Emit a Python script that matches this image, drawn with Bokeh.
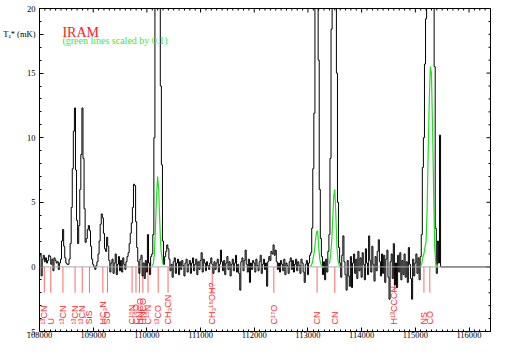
import numpy as np
from bokeh.plotting import figure
from bokeh.models import Range1d, LinearAxis, SingleIntervalTicker, FixedTicker, Label, Span, BasicTickFormatter
from bokeh.core.properties import value
from bokeh.embed import file_html
from bokeh.resources import INLINE

# ---------------- data ----------------
FREQ_START = 108000      # MHz, centre of first channel
CHANNEL_WIDTH = 20       # MHz
X_MIN, X_MAX = 108000, 116400
Y_MIN, Y_MAX = -5, 20
GREEN_SCALE = 0.1

# antenna temperature T_A* (mK), one value per 20 MHz channel, 108000 .. 115460 MHz
intensity = [
    # 108000
    0.8, 1.0, -0.7, 0.6, 0.9, 0.4, 0.7, 0.3, 0.5, 0.9, 0.8, 0.2, 0.6, -0.3, 0.7, 0.5, 0.3, 0.4, -0.2, 0.3,
    # 108400
    0.6, 2.0, 2.9, 1.6, 0.7, 0.3, 0.2, 0.2, 0.6, 1.8, 4.6, 7.6, 10.5, 12.3, 7.5, 3.6, 1.8, 3.2, 6.0, 8.7,
    # 108800
    12.3, 8.4, 4.5, 1.9, 2.2, 2.9, 3.2, 2.8, 1.6, 0.6, 0.2, 0.0, -0.2, 0.1, 0.4, 1.0, 2.0, 3.3, 4.1, 3.8,
    # 109200
    2.6, 1.4, 1.2, 2.3, 1.6, 0.5, -0.4, 0.3, 0.6, -0.5, 0.3, 1.0, -0.6, 0.2, 0.8, -0.3, 0.5, -0.4, 0.7, 0.2,
    # 109600
    -0.2, 0.4, 0.8, 1.1, 1.8, 2.6, 3.4, 4.6, 6.4, 6.3, 3.5, 1.5, 0.4, -0.5, 0.6, 0.9, -0.7, 0.3, -0.9, 0.5,
    # 110000
    -0.4, 2.5, 0.3, -0.6, 0.8, 1.0, 2.5, 10.0, 30.0, 55.0, 70.0, 60.0, 35.0, 14.0, 7.9, 2.0, 0.2, 0.8, 1.2, 1.7,
    # 110400
    1.4, 0.6, -0.3, 0.2, -0.8, 0.4, 0.7, -0.5, 0.3, 0.6, -0.6, 0.4, -0.2, 0.5, 0.1, -0.7, 0.3, 0.6, -0.4, 0.2,
    # 110800
    0.5, -0.5, 0.3, 0.7, -0.3, 0.2, 0.6, -0.6, 0.4, -0.2, 0.5, 1.1, -0.4, 0.6, 0.3, -0.3, 0.4, 0.1, -0.2, 0.3,
    # 111200
    0.7, 0.2, -0.5, 0.4, -0.2, 0.3, 0.6, -0.4, 0.2, 1.3, 0.4, -0.3, 0.5, -0.6, 0.3, 0.8, -0.2, 0.4, -0.7, 0.2,
    # 111600
    0.6, -0.3, 0.3, 0.9, -0.4, 0.2, -0.5, -1.8, 0.4, 0.7, -0.3, 0.5, 1.3, 0.2, -0.4, 0.6, -1.2, 0.3, -0.2, 0.5,
    # 112000
    0.3, -0.4, 0.6, 0.1, -0.3, 0.4, 0.9, -0.5, 0.2, 0.6, -0.2, 0.3, -1.5, 0.4, 0.8, 0.5, 1.2, 1.0, 1.7, 0.9,
    # 112400
    1.3, 0.4, -0.2, 0.3, -0.4, 0.5, 0.2, -0.3, 0.6, -0.6, 0.3, 0.1, -0.5, 0.4, 0.7, -0.2, 0.5, -0.4, 0.2, 0.6,
    # 112800
    -0.3, 0.4, 0.1, -0.5, 0.6, 0.3, -0.4, -1.2, 0.2, 0.5, -0.6, 0.3, 0.9, 1.1, 3.0, 7.6, 11.9, 20.0, 27.0, 28.0,
    # 113200
    16.0, 6.0, 2.2, 0.8, -0.6, 0.4, -1.0, 0.6, -0.4, 1.2, 2.5, 8.4, 18.4, 35.0, 55.0, 60.0, 40.0, 15.0, 5.0, 1.5,
    # 113600
    0.3, -0.8, 0.9, 2.4, 0.4, -0.6, -1.8, 0.5, -0.7, -1.5, 0.8, -1.6, 0.3, 1.0, -0.5, 0.6, -0.9, 1.2, -0.3, 0.7,
    # 114000
    -0.8, 1.1, 0.2, -1.0, 1.4, 0.3, -0.6, 2.4, 0.5, -0.4, 1.6, 0.2, -1.1, 0.8, -0.3, 1.2, 2.1, 0.4, -0.7, 1.0,
    # 114400
    -0.5, 0.9, -1.2, 0.6, 1.3, -0.8, -2.5, 0.4, 1.0, -0.9, 1.8, -1.4, 0.3, -1.6, 0.9, -0.4, 1.1, -1.0, 0.5, -0.6,
    # 114800
    1.0, -0.8, 0.4, -1.2, 1.5, 0.2, -0.9, -2.5, 0.6, -0.7, 0.3, 1.0, -0.5, 0.7, -1.0, 0.8, 2.5, 7.7, 10.0, 15.7,
    # 115200
    19.2, 45.0, 90.0, 130.0, 155.0, 150.0, 110.0, 60.0, 15.5, 3.0, -0.5, 2.0, 0.3, 10.2,
]

# strong lines also shown scaled by 0.1 (green): frequency windows in MHz
green_windows = [(110100, 110300), (113040, 113300), (113400, 113600), (115100, 115420)]

# identified lines
line_freqs = [108090, 108210, 108436, 108663, 108796, 108930, 109180, 109266,
              109724, 109797, 109863, 109925, 110022, 110211, 110394, 111217,
              112365, 113170, 113500, 114611, 115160, 115270]
line_names = ["¹³CN", "U", "¹³CN", "¹³CN", "¹³CN", "SiS", "HC₃N", "SO",
              "C¹⁵N", "C¹⁸O", "HNCO", "HNCO", "C¹⁵N", "¹³CO", "CH₃CN", "CH₃¹⁸OH?",
              "C¹⁷O", "CN", "CN", "H¹³CCCN", "NS", "CO"]

# axis ticks / labels
X_MAJOR, X_MINOR = 1000, 100
y_major_ticks = [-5, 0, 5, 10, 15, 20]
y_minor_ticks = list(range(-5, 21))
Y_TITLE_AT = 18
Y_TITLE = "Tₐ* (mK)"

# ---------------- build ----------------
vals = np.array(intensity, dtype=float)
centres = FREQ_START + CHANNEL_WIDTH * np.arange(len(vals))
lefts = centres - CHANNEL_WIDTH / 2
rights = centres + CHANNEL_WIDTH / 2
step_x = np.column_stack([lefts, rights]).ravel()
step_y = np.repeat(vals, 2)
step_x = np.concatenate([step_x, [rights[-1], X_MAX]])
step_y = np.concatenate([step_y, [0.0, 0.0]])

W, H = 493, 340
BL, BR, BT, BB = 38, 3, 8, 9
p = figure(width=W, height=H, x_range=Range1d(X_MIN, X_MAX), y_range=Range1d(Y_MIN, Y_MAX),
           output_backend="svg", toolbar_location=None,
           x_axis_location=None, y_axis_location=None,
           min_border_left=BL, min_border_right=BR, min_border_top=BT, min_border_bottom=0)
p.xgrid.visible = False
p.ygrid.visible = False
p.outline_line_color = "black"
p.background_fill_color = "white"
p.border_fill_color = "white"

SERIF = "Liberation Serif"

def style_axis(ax):
    ax.major_tick_in = 4
    ax.major_tick_out = 0
    ax.minor_tick_in = 2
    ax.minor_tick_out = 0
    ax.axis_line_color = "black"
    ax.major_tick_line_color = "black"
    ax.minor_tick_line_color = "black"
    ax.major_label_text_font = SERIF
    ax.major_label_text_color = "black"
    ax.axis_label_standoff = 0

xax = LinearAxis(ticker=SingleIntervalTicker(interval=X_MAJOR, num_minor_ticks=X_MAJOR // X_MINOR),
                 formatter=BasicTickFormatter(use_scientific=False))
style_axis(xax)
xax.major_label_standoff = 0
xax.major_label_text_font_size = "8.5px"
p.add_layout(xax, "below")

yax = LinearAxis(ticker=FixedTicker(ticks=sorted(y_major_ticks + [Y_TITLE_AT]), minor_ticks=y_minor_ticks),
                 formatter=BasicTickFormatter(use_scientific=False))
style_axis(yax)
yax.major_label_standoff = 4
yax.major_label_text_font_size = "8.5px"
yax.major_label_overrides = {Y_TITLE_AT: Y_TITLE}
p.add_layout(yax, "left")

# mirrored ticks on top and right edges (pixel lengths converted to data units)
frame_w = W - BL - BR
frame_h = H - BT - BB
px_x = (X_MAX - X_MIN) / frame_w
px_y = (Y_MAX - Y_MIN) / frame_h
xt = np.arange(X_MIN, X_MAX + 1, X_MINOR)
xt_len = np.where(xt % X_MAJOR == 0, 4, 2) * px_y
p.segment(x0=xt, y0=np.full(len(xt), Y_MAX), x1=xt, y1=Y_MAX - xt_len, line_color="black", line_width=1)
yt = np.array(y_minor_ticks)
yt_len = np.where(np.isin(yt, y_major_ticks), 4, 2) * px_x
p.segment(x0=np.full(len(yt), X_MAX), y0=yt, x1=X_MAX - yt_len, y1=yt, line_color="black", line_width=1)

# zero line
p.add_layout(Span(location=0, dimension="width", line_color="#aaaaaa", line_width=1))

# line markers
RED = "#ff2a2a"
p.segment(x0=line_freqs, y0=[0] * len(line_freqs), x1=line_freqs, y1=[-2] * len(line_freqs),
          line_color="#ff6a6a", line_width=1)
p.text(x=line_freqs, y=[-4.45] * len(line_freqs), text=line_names, angle=np.pi / 2,
       text_align="left", text_baseline="middle", text_color=RED,
       text_font=value("Liberation Sans"), text_font_size="9px")

# spectrum
p.line(step_x, step_y, line_color="black", line_width=1)

# scaled green lines
for lo, hi in green_windows:
    m = (centres >= lo) & (centres <= hi)
    p.line(centres[m], vals[m] * GREEN_SCALE, line_color="#22dd22", line_width=1.2)

# annotations
p.add_layout(Label(x=108427, y=18.17, text="IRAM", text_color="#ff2020",
                   text_font=SERIF, text_font_size="14px", text_baseline="alphabetic"))
p.add_layout(Label(x=108427, y=17.56, text="(green lines scaled by 0.1)", text_color="#33ee33",
                   text_font=SERIF, text_font_size="10px", text_baseline="alphabetic"))

open("out.html", "w").write(file_html(p, INLINE))
